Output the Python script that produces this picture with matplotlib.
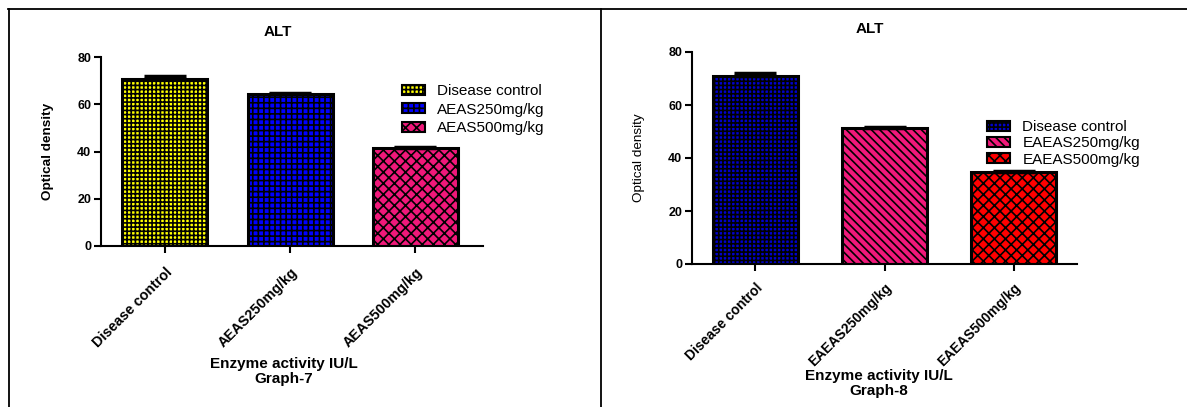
import matplotlib.pyplot as plt
from matplotlib.patches import Patch
from matplotlib.lines import Line2D

plt.rcParams['font.family'] = ['Liberation Sans', 'DejaVu Sans']
plt.rcParams['hatch.linewidth'] = 1.2

# Graph-7 data
groups7 = ["Disease control", "AEAS250mg/kg", "AEAS500mg/kg"]
values7 = [70.8, 64.3, 41.4]
errors7 = [1.2, 0.6, 0.5]
colors7 = ["#ffff00", "#0000ff", "#f0187a"]
hatches7 = ["++++", "+++", "xxx"]

# Graph-8 data
groups8 = ["Disease control", "EAEAS250mg/kg", "EAEAS500mg/kg"]
values8 = [70.9, 51.3, 34.8]
errors8 = [1.3, 0.5, 0.4]
colors8 = ["#0000cd", "#f0187a", "#ff0000"]
hatches8 = ["++++", "\\\\\\\\", "xxx"]

W, H = 1187, 407
fig = plt.figure(figsize=(W / 100, H / 100), dpi=100)


def px(x0, y0, x1, y1):
    return [x0 / W, 1 - y1 / H, (x1 - x0) / W, (y1 - y0) / H]


def draw(ax, groups, values, errors, colors, hatches, xlim, width, ylab_bold,
         xlab, leg_anchor, leg_space, xfs, xpad, lpad, tpad, lx):
    pos = list(range(len(groups)))
    ax.bar(pos, values, width=width, color=colors, hatch=hatches,
           edgecolor="black", linewidth=2.2, zorder=2)
    ax.errorbar(pos, values, yerr=[[0] * len(errors), errors], fmt="none",
                ecolor="black", elinewidth=1.5, capsize=15, capthick=2.5,
                zorder=3)
    ax.set_xlim(*xlim)
    ax.set_ylim(0, 80)
    ax.set_yticks([0, 20, 40, 60, 80])
    ax.set_xticks(pos)
    ax.set_xticklabels(groups, rotation=45, ha="right", rotation_mode="anchor",
                       fontsize=xfs, fontweight="bold")
    for lab in ax.get_yticklabels():
        lab.set_fontweight("bold")
        lab.set_fontsize(9)
    for s in ["top", "right"]:
        ax.spines[s].set_visible(False)
    for s in ["left", "bottom"]:
        ax.spines[s].set_linewidth(1.5)
    ax.tick_params(width=1.5, length=5, pad=2)
    ax.tick_params(axis="x", pad=xpad)
    ax.set_ylabel("Optical density", fontsize=9.7,
                  fontweight="bold" if ylab_bold else "normal", labelpad=17)
    ax.set_title("ALT", fontsize=11, fontweight="bold", pad=tpad, x=0.462)
    ax.set_xlabel(xlab, fontsize=11, fontweight="bold", linespacing=1.05,
                  labelpad=lpad)
    ax.xaxis.label.set_x(lx)
    handles = [Patch(facecolor=c, edgecolor="black", hatch=h, linewidth=1.5)
               for c, h in zip(colors, hatches)]
    ax.legend(handles, groups, loc="upper left", bbox_to_anchor=leg_anchor,
              bbox_transform=fig.transFigure, frameon=False, fontsize=11,
              handlelength=1.5, handleheight=0.6, labelspacing=leg_space,
              handletextpad=0.8, borderaxespad=0)


ax1 = fig.add_axes(px(101, 57, 483, 246))
draw(ax1, groups7, values7, errors7, colors7, hatches7, (-0.51, 2.54), 0.68,
     True, "Enzyme activity IU/L\nGraph-7", (396 / W, 1 - 78 / H), 0.3,
     10.3, 9, 5, 15, 0.478)

ax2 = fig.add_axes(px(692, 52, 1077, 264))
draw(ax2, groups8, values8, errors8, colors8, hatches8, (-0.49, 2.49), 0.66,
     False, "Enzyme activity IU/L\nGraph-8", (981 / W, 1 - 114 / H), 0.15,
     9.9, 7, 0, 14, 0.485)

# table-like frame lines
fig.add_artist(Line2D([8 / W, 1], [1 - 8.5 / H] * 2, color="black", lw=1.3))
fig.add_artist(Line2D([8.5 / W] * 2, [0, 1 - 8.5 / H], color="black", lw=1.3))
fig.add_artist(Line2D([600.5 / W] * 2, [0, 1 - 8.5 / H], color="black", lw=1.3))

fig.savefig("out.png", dpi=100)
